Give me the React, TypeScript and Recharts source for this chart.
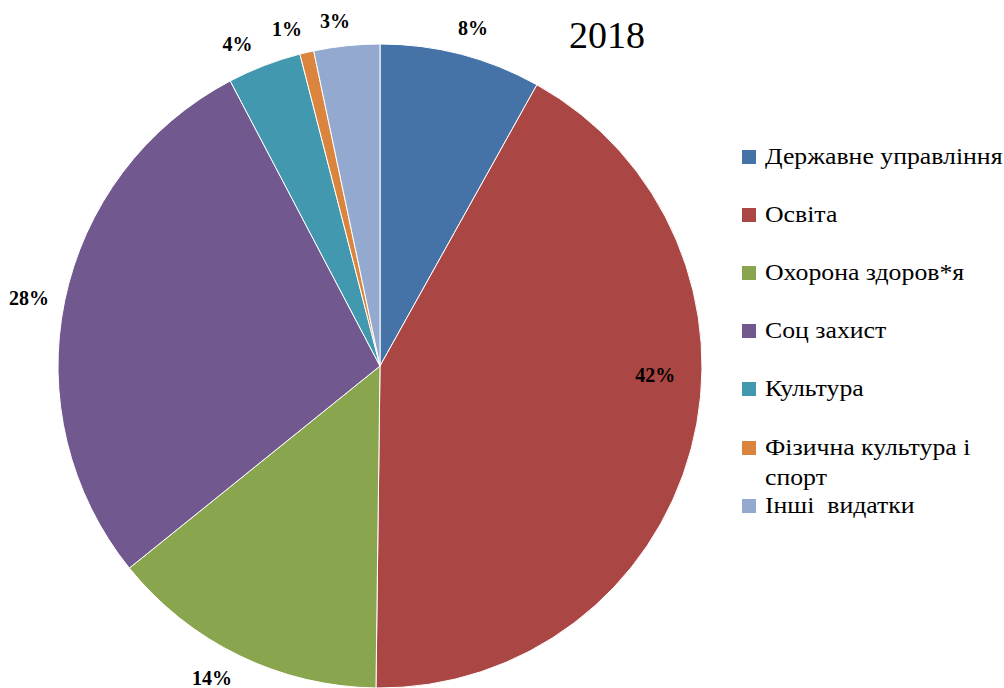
import React from "react";
import { PieChart, Pie, Cell } from "recharts";

const CATEGORIES = [
  "Державне управління",
  "Освіта",
  "Охорона здоров*я",
  "Соц захист",
  "Культура",
  "Фізична культура і спорт",
  "Інші  видатки",
];
const SHARES = [8.1, 42.1, 14.0, 28.1, 3.7, 0.7, 3.3];
const PERCENT_LABELS = ["8%", "42%", "14%", "28%", "4%", "1%", "3%"];
const COLORS = ["#4572A7", "#AA4643", "#89A54E", "#71588F", "#4198AF", "#DB843D", "#93A9CF"];
const TITLE = "2018";

// label radius (× outer radius) and angle nudge (deg, ccw) per slice, Excel "best fit" look
const LABEL_RADIUS = [1.09, 0.855, 1.1, 1.11, 1.095, 1.085, 1.08];
const LABEL_SHIFT = [-0.8, 13, -2.4, 0.8, 2.8, 2.3, 1.5];

const RADIAN = Math.PI / 180;
const SERIF = '"Liberation Serif", "Times New Roman", serif';

const data = CATEGORIES.map((name, i) => ({ name, value: SHARES[i], label: PERCENT_LABELS[i] }));

function renderLabel(props: any) {
  const { cx, cy, midAngle, outerRadius, index } = props;
  const r = outerRadius * LABEL_RADIUS[index];
  const a = (midAngle + LABEL_SHIFT[index]) * RADIAN;
  const x = cx + r * Math.cos(-a);
  const y = cy + r * Math.sin(-a);
  return (
    <text
      x={x}
      y={y}
      textAnchor="middle"
      dominantBaseline="central"
      fontFamily={SERIF}
      fontWeight="bold"
      fontSize={20}
      fill="#000"
    >
      {PERCENT_LABELS[index]}
    </text>
  );
}

export default function App() {
  return (
    <div
      style={{
        position: "absolute",
        left: 0,
        top: 0,
        width: 1004,
        height: 688,
        overflow: "hidden",
        background: "#fff",
        fontFamily: SERIF,
      }}
    >
      <PieChart width={1004} height={688} margin={{ top: 0, right: 0, bottom: 0, left: 0 }}>
        <Pie
          data={data}
          dataKey="value"
          nameKey="name"
          cx={380}
          cy={366}
          outerRadius={322}
          startAngle={90}
          endAngle={-270}
          stroke="#fff"
          strokeWidth={1}
          label={renderLabel}
          labelLine={false}
          isAnimationActive={false}
        >
          {data.map((_, i) => (
            <Cell key={`cell-${i}`} fill={COLORS[i]} />
          ))}
        </Pie>
      </PieChart>

      <div style={{ position: "absolute", left: 569, top: 12, fontSize: 38, color: "#000", lineHeight: "46px" }}>
        {TITLE}
      </div>

      {CATEGORIES.map((name, i) => (
        <div
          key={name}
          style={{
            position: "absolute",
            left: 742,
            top: 142 + i * 58.1,
            display: "flex",
            alignItems: "flex-start",
            fontSize: 23,
            lineHeight: "30px",
            color: "#000",
          }}
        >
          <span
            style={{
              display: "inline-block",
              width: 14,
              height: 14,
              marginTop: 8,
              marginRight: 9,
              background: COLORS[i],
              flex: "none",
            }}
          />
          <span
            style={{
              width: 223,
              whiteSpace: "pre-wrap",
              transform: "scaleX(1.12)",
              transformOrigin: "left top",
            }}
          >
            {name}
          </span>
        </div>
      ))}
    </div>
  );
}
